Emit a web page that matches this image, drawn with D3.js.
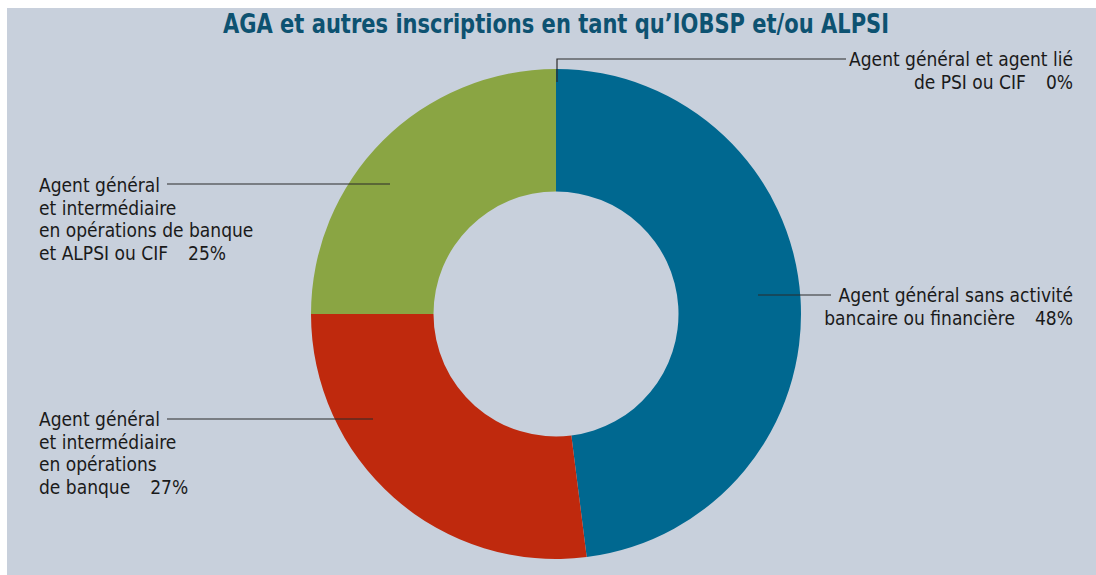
<!DOCTYPE html>
<html lang="fr">
<head>
<meta charset="utf-8">
<script src="https://cdn.jsdelivr.net/npm/d3@7"></script>
<style>
  html, body { margin: 0; padding: 0; background: #ffffff; }
  svg { display: block; }
  .lbl { font-family: "Liberation Sans Narrow", "Arial Narrow", "DejaVu Sans Condensed", sans-serif; font-size: 19px; fill: #1a1a1a; }
  .title { font-family: "Liberation Sans Narrow", "Arial Narrow", "DejaVu Sans Condensed", sans-serif; font-weight: bold; font-size: 27px; fill: #0d5271; }
</style>
</head>
<body>
<script>
// Répartition des agents généraux selon leurs autres inscriptions
const categories = [
  "Agent général sans activité bancaire ou financière",
  "Agent général et intermédiaire en opérations de banque",
  "Agent général et intermédiaire en opérations de banque et ALPSI ou CIF",
  "Agent général et agent lié de PSI ou CIF"
];
const values = [48, 27, 25, 0];
const colors = ["#006890", "#bf290d", "#8aa543", "#8aa543"];
const labelLines = [
  ["Agent général sans activité", "bancaire ou financière"],
  ["Agent général", "et intermédiaire", "en opérations", "de banque"],
  ["Agent général", "et intermédiaire", "en opérations de banque", "et ALPSI ou CIF"],
  ["Agent général et agent lié", "de PSI ou CIF"]
];
const title = "AGA et autres inscriptions en tant qu’IOBSP et/ou ALPSI";

const W = 1096, H = 575;
const cx = 556, cy = 314, rOuter = 245, rInner = 122.5;

const svg = d3.select("body").append("svg").attr("width", W).attr("height", H);

// panneau de fond
svg.append("rect").attr("x", 7).attr("y", 8).attr("width", W - 7).attr("height", H - 8).attr("fill", "#c8d0dc");

svg.append("text").attr("class", "title")
  .attr("x", cx).attr("y", 33).attr("text-anchor", "middle")
  .attr("textLength", 666).attr("lengthAdjust", "spacingAndGlyphs")
  .text(title);

const pie = d3.pie().value(d => d).sort(null);
const arcs = pie(values);
const arc = d3.arc().innerRadius(rInner).outerRadius(rOuter);

const g = svg.append("g").attr("transform", `translate(${cx},${cy})`);
g.selectAll("path").data(arcs).join("path")
  .attr("d", arc)
  .attr("fill", (d, i) => colors[i]);

// étiquettes et traits de rappel
const labels = [
  { anchor: "end",   x: 1073, y: 302, line: [[758, 295], [831, 295]] },
  { anchor: "start", x: 39,   y: 426, line: [[167, 419], [373, 419]] },
  { anchor: "start", x: 39,   y: 192, line: [[167, 184], [390, 184]] },
  { anchor: "end",   x: 1073, y: 66,  line: [[557, 82], [557, 59], [846, 59]] }
];
const lh = 22.5;

labels.forEach((L, i) => {
  svg.append("path")
    .attr("d", d3.line()(L.line))
    .attr("fill", "none").attr("stroke", "#2b2b2b").attr("stroke-width", 1.2);

  const t = svg.append("text").attr("class", "lbl").attr("text-anchor", L.anchor);
  const lines = labelLines[i];
  lines.forEach((s, k) => {
    const ts = t.append("tspan").attr("x", L.x).attr("y", L.y + k * lh).text(s);
    if (k === lines.length - 1) {
      ts.append("tspan").attr("dx", 20).text(values[i] + "%");
    }
  });
});
</script>
</body>
</html>
